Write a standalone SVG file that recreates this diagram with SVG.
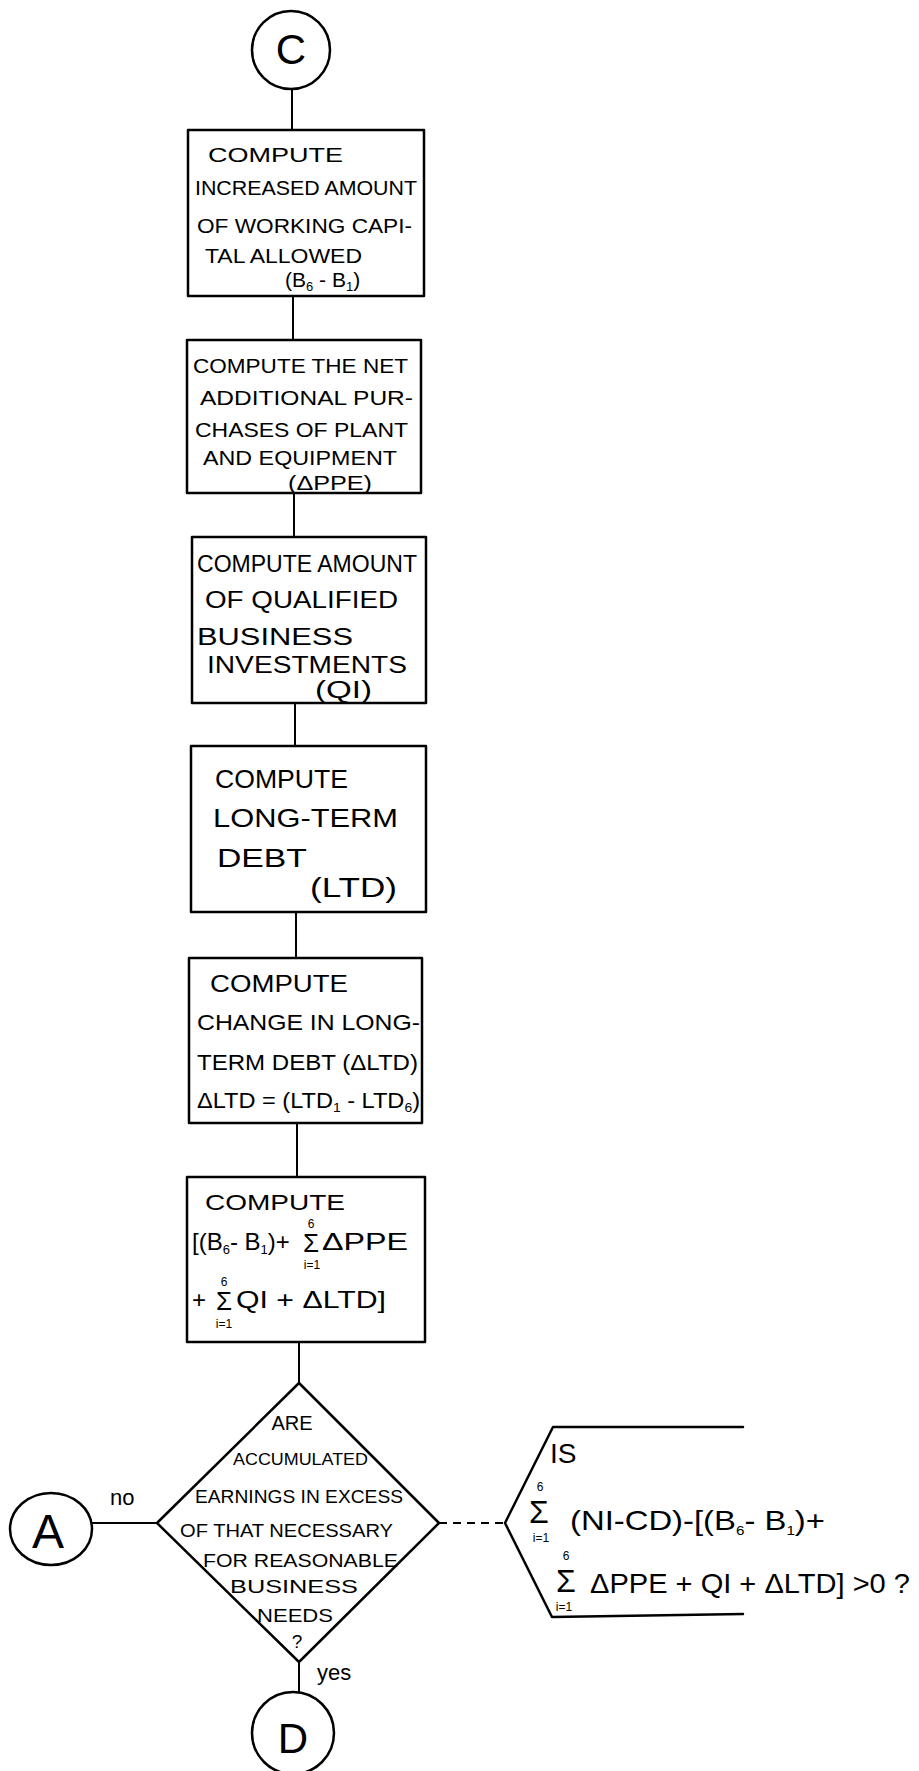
<svg xmlns="http://www.w3.org/2000/svg" width="919" height="1771" viewBox="0 0 919 1771">
<style>
.s{fill:none;stroke:#000;stroke-width:2.5;stroke-linejoin:round;stroke-linecap:round}
.c{fill:none;stroke:#000;stroke-width:2}
.t{font-family:"Liberation Sans",Arial,sans-serif;fill:#000}
.sub{font-size:13px}
.lim{font-family:"Liberation Sans",Arial,sans-serif;fill:#000;font-size:12px}
</style>
<rect width="919" height="1771" fill="#fff"/>
<g id="connectors">
<line class="c" x1="292" y1="89" x2="292" y2="130"/>
<line class="c" x1="293" y1="296" x2="293" y2="340"/>
<line class="c" x1="294" y1="493" x2="294" y2="537"/>
<line class="c" x1="295" y1="703" x2="295" y2="746"/>
<line class="c" x1="296" y1="912" x2="296" y2="958"/>
<line class="c" x1="297" y1="1123" x2="297" y2="1177"/>
<line class="c" x1="299" y1="1342" x2="299" y2="1383"/>
<line class="c" x1="299" y1="1662" x2="299" y2="1692"/>
<line class="c" x1="92" y1="1523" x2="157" y2="1523"/>
<line class="c" x1="439" y1="1523" x2="505" y2="1523" stroke-dasharray="8,6"/>
<text class="t" x="110" y="1505" font-size="22">no</text>
<text class="t" x="317" y="1680" font-size="22">yes</text>
</g>
<g id="nodeC">
<circle class="s" cx="291" cy="50" r="39"/>
<text class="t" x="291" y="64" font-size="42" text-anchor="middle">C</text>
</g>
<g id="box1">
<rect class="s" x="188" y="130" width="236" height="166"/>
<text class="t" x="208" y="162" font-size="21" textLength="135" lengthAdjust="spacingAndGlyphs">COMPUTE</text>
<text class="t" x="195" y="195" font-size="21" textLength="222" lengthAdjust="spacingAndGlyphs">INCREASED AMOUNT</text>
<text class="t" x="197" y="233" font-size="21" textLength="215" lengthAdjust="spacingAndGlyphs">OF WORKING CAPI-</text>
<text class="t" x="205" y="263" font-size="21" textLength="157" lengthAdjust="spacingAndGlyphs">TAL ALLOWED</text>
<text class="t" x="285" y="287" font-size="21">(B<tspan class="sub" dy="4">6</tspan><tspan dy="-4"> - B</tspan><tspan class="sub" dy="4">1</tspan><tspan dy="-4">)</tspan></text>
</g>
<g id="box2">
<rect class="s" x="187" y="340" width="234" height="153"/>
<text class="t" x="193" y="373" font-size="21" textLength="215" lengthAdjust="spacingAndGlyphs">COMPUTE THE NET</text>
<text class="t" x="200" y="405" font-size="21" textLength="213" lengthAdjust="spacingAndGlyphs">ADDITIONAL PUR-</text>
<text class="t" x="195" y="437" font-size="21" textLength="213" lengthAdjust="spacingAndGlyphs">CHASES OF PLANT</text>
<text class="t" x="203" y="465" font-size="21" textLength="194" lengthAdjust="spacingAndGlyphs">AND EQUIPMENT</text>
<text class="t" x="288" y="490" font-size="21" textLength="84" lengthAdjust="spacingAndGlyphs">(ΔPPE)</text>
</g>
<g id="box3">
<rect class="s" x="192" y="537" width="234" height="166"/>
<text class="t" x="197" y="572" font-size="23" textLength="220" lengthAdjust="spacingAndGlyphs">COMPUTE AMOUNT</text>
<text class="t" x="205" y="608" font-size="23" textLength="193" lengthAdjust="spacingAndGlyphs">OF QUALIFIED</text>
<text class="t" x="197" y="645" font-size="23" textLength="156" lengthAdjust="spacingAndGlyphs">BUSINESS</text>
<text class="t" x="207" y="673" font-size="23" textLength="200" lengthAdjust="spacingAndGlyphs">INVESTMENTS</text>
<text class="t" x="315" y="698" font-size="23" textLength="57" lengthAdjust="spacingAndGlyphs">(QI)</text>
</g>
<g id="box4">
<rect class="s" x="191" y="746" width="235" height="166"/>
<text class="t" x="215" y="788" font-size="25" textLength="133" lengthAdjust="spacingAndGlyphs">COMPUTE</text>
<text class="t" x="213" y="827" font-size="25" textLength="185" lengthAdjust="spacingAndGlyphs">LONG-TERM</text>
<text class="t" x="217" y="867" font-size="25" textLength="90" lengthAdjust="spacingAndGlyphs">DEBT</text>
<text class="t" x="310" y="897" font-size="27" textLength="87" lengthAdjust="spacingAndGlyphs">(LTD)</text>
</g>
<g id="box5">
<rect class="s" x="189" y="958" width="233" height="165"/>
<text class="t" x="210" y="992" font-size="23" textLength="138" lengthAdjust="spacingAndGlyphs">COMPUTE</text>
<text class="t" x="197" y="1030" font-size="22" textLength="223" lengthAdjust="spacingAndGlyphs">CHANGE IN LONG-</text>
<text class="t" x="197" y="1070" font-size="22" textLength="221" lengthAdjust="spacingAndGlyphs">TERM DEBT (ΔLTD)</text>
<text class="t" x="197" y="1108" font-size="22" textLength="223" lengthAdjust="spacingAndGlyphs">ΔLTD = (LTD<tspan class="sub" dy="4">1</tspan><tspan dy="-4"> - LTD</tspan><tspan class="sub" dy="4">6</tspan><tspan dy="-4">)</tspan></text>
</g>
<g id="box6">
<rect class="s" x="187" y="1177" width="238" height="165"/>
<text class="t" x="205" y="1210" font-size="22" textLength="140" lengthAdjust="spacingAndGlyphs">COMPUTE</text>
<text class="t" x="192" y="1250" font-size="24">[(B<tspan class="sub" dy="4">6</tspan><tspan dy="-4">- B</tspan><tspan class="sub" dy="4">1</tspan><tspan dy="-4">)+</tspan></text>
<text class="t" x="303" y="1252" font-size="26">Σ</text>
<text class="lim" x="311" y="1228" text-anchor="middle">6</text>
<text class="lim" x="312" y="1269" text-anchor="middle">i=1</text>
<text class="t" x="322" y="1250" font-size="24" textLength="86" lengthAdjust="spacingAndGlyphs">ΔPPE</text>
<text class="t" x="192" y="1308" font-size="24">+</text>
<text class="t" x="216" y="1310" font-size="26">Σ</text>
<text class="lim" x="224" y="1286" text-anchor="middle">6</text>
<text class="lim" x="224" y="1328" text-anchor="middle">i=1</text>
<text class="t" x="236" y="1308" font-size="24" textLength="150" lengthAdjust="spacingAndGlyphs">QI + ΔLTD]</text>
</g>
<g id="decision">
<polygon class="s" points="299,1383 439,1523 299,1662 157,1523"/>
<text class="t" x="292" y="1430" font-size="20" text-anchor="middle">ARE</text>
<text class="t" x="233" y="1465" font-size="16" textLength="135" lengthAdjust="spacingAndGlyphs">ACCUMULATED</text>
<text class="t" x="195" y="1503" font-size="19" textLength="208" lengthAdjust="spacingAndGlyphs">EARNINGS IN EXCESS</text>
<text class="t" x="180" y="1537" font-size="18" textLength="213" lengthAdjust="spacingAndGlyphs">OF THAT NECESSARY</text>
<text class="t" x="203" y="1567" font-size="18" textLength="195" lengthAdjust="spacingAndGlyphs">FOR REASONABLE</text>
<text class="t" x="230" y="1593" font-size="19" textLength="128" lengthAdjust="spacingAndGlyphs">BUSINESS</text>
<text class="t" x="257" y="1622" font-size="18" textLength="76" lengthAdjust="spacingAndGlyphs">NEEDS</text>
<text class="t" x="297" y="1648" font-size="19" text-anchor="middle">?</text>
</g>
<g id="nodeA">
<ellipse class="s" cx="51" cy="1529" rx="41" ry="36"/>
<text class="t" x="48" y="1548" font-size="48" text-anchor="middle">A</text>
</g>
<g id="nodeD">
<circle class="s" cx="293" cy="1733" r="41"/>
<text class="t" x="293" y="1753" font-size="42" text-anchor="middle">D</text>
</g>
<g id="annotation">
<path class="s" d="M505,1523 L553,1427 L743,1427 M505,1523 L552,1617 L743,1614"/>
<text class="t" x="550" y="1463" font-size="28">IS</text>
<text class="t" x="529" y="1523" font-size="32">Σ</text>
<text class="lim" x="540" y="1491" font-size="14" text-anchor="middle">6</text>
<text class="lim" x="541" y="1542" font-size="13" text-anchor="middle">i=1</text>
<text class="t" x="570" y="1530" font-size="28" textLength="255" lengthAdjust="spacingAndGlyphs">(NI-CD)-[(B<tspan class="sub" font-size="18" dy="5">6</tspan><tspan dy="-5">- B</tspan><tspan class="sub" font-size="18" dy="5">1</tspan><tspan dy="-5">)+</tspan></text>
<text class="t" x="556" y="1592" font-size="32">Σ</text>
<text class="lim" x="566" y="1560" font-size="14" text-anchor="middle">6</text>
<text class="lim" x="564" y="1611" font-size="13" text-anchor="middle">i=1</text>
<text class="t" x="590" y="1593" font-size="28" textLength="320" lengthAdjust="spacingAndGlyphs">ΔPPE + QI + ΔLTD] &gt;0 ?</text>
</g>
</svg>
